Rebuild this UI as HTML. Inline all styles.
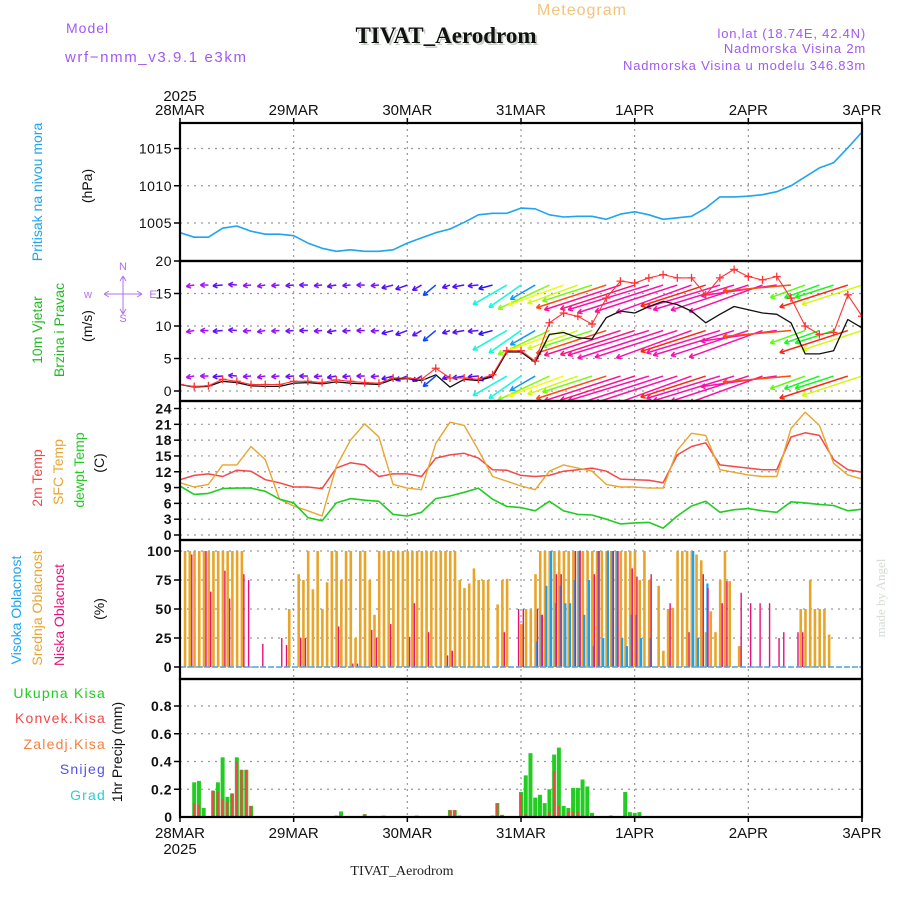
<!DOCTYPE html>
<html><head><meta charset="utf-8"><style>
html,body{margin:0;padding:0;background:#fff;}
svg{display:block;font-family:"Liberation Sans",sans-serif;}
</style></head><body>
<svg id="chart" width="900" height="900" viewBox="0 0 900 900" xmlns="http://www.w3.org/2000/svg">
<g id="header">
  <text x="582" y="15" font-size="16" fill="#f2c47a" text-anchor="middle" letter-spacing="1">Meteogram</text>
  <text x="66" y="33" font-size="14" fill="#a259f0" letter-spacing="1">Model</text>
  <text x="65" y="62" font-size="15" fill="#a259f0" letter-spacing="1.6">wrf−nmm_v3.9.1 e3km</text>
  <text x="446" y="43" font-size="23" font-weight="bold" fill="#c8d0c8" text-anchor="middle" font-family="Liberation Serif, serif" transform="translate(2,2)">TIVAT_Aerodrom</text>
  <text x="446" y="43" font-size="23" font-weight="bold" fill="#111" text-anchor="middle" font-family="Liberation Serif, serif">TIVAT_Aerodrom</text>
  <text x="866" y="38" font-size="13" fill="#a259f0" text-anchor="end" letter-spacing="0.8">lon,lat (18.74E, 42.4N)</text>
  <text x="866" y="53" font-size="13" fill="#a259f0" text-anchor="end" letter-spacing="0.8">Nadmorska Visina 2m</text>
  <text x="866" y="70" font-size="13" fill="#a259f0" text-anchor="end" letter-spacing="0.8">Nadmorska Visina u modelu 346.83m</text>
  <text x="402" y="875" font-size="14" fill="#222" text-anchor="middle" font-family="Liberation Serif, serif">TIVAT_Aerodrom</text>
  <text x="885" y="598" font-size="13" fill="#d6ddd6" text-anchor="middle" transform="rotate(-90 885 598)" font-family="Liberation Serif, serif">made by Angel</text>
</g>
<g id="leftlabels"></g>
<g id="grid"></g>
<defs><clipPath id="windclip"><rect x="180" y="262" width="682" height="138"/></clipPath>
<clipPath id="presclip"><rect x="180" y="124" width="682" height="136"/></clipPath></defs>
<g id="marks"></g>
<g id="frame"></g>
</svg>
<script>
// ---------- DATA (3-hourly, 28MAR 00 .. 3APR 00) ----------
const dayLabels = ["28MAR","29MAR","30MAR","31MAR","1APR","2APR","3APR"];
const pressure = [1003.7,1003.1,1003.1,1004.3,1004.6,1003.9,1003.5,1003.5,1003.3,1002.3,1001.6,1001.2,1001.4,1001.2,1001.2,1001.4,1002.3,1003.0,1003.7,1004.2,1005.1,1006.1,1006.3,1006.3,1007.0,1006.9,1006.1,1005.8,1005.9,1005.9,1005.5,1006.2,1006.5,1006.1,1005.5,1005.7,1005.9,1007.0,1008.5,1008.5,1008.6,1008.8,1009.2,1010.0,1011.2,1012.4,1013.1,1015.1,1017.2];
const windSpeed = [1,0.6,0.7,1.5,1.3,0.8,0.7,0.7,1.2,1.3,1.1,1.4,1.2,1.1,1,1.8,1.9,1.6,2.5,0.6,1.8,1.6,2.2,6,6,4.4,8.7,9,8.2,8,11.3,12.3,12,13,13.8,13.3,12.3,10.5,11.8,13,12.5,12,11.8,10.5,5.7,5.7,6.2,11,9.7];
const windGust = [1,0.7,0.8,1.8,1.5,1,1,1,1.5,1.5,1.3,1.7,1.5,1.3,1.2,2,2,1.8,3.5,2,2,1.8,2.5,6.2,6.2,4.6,10.5,12,11.5,10.3,14.3,16.9,16.6,17.4,17.9,17.4,17.4,14.8,17.4,18.7,17.6,17.1,17.6,14.3,10,8.7,9,14.8,11.5];
const windDir = [185,190,180,185,175,185,190,185,185,180,185,190,185,180,185,195,200,210,220,200,190,185,195,210,215,210,205,200,200,198,198,198,198,197,198,198,200,198,197,197,198,200,188,185,200,200,198,198,198];
const temp2m = [10.5,11.3,11.6,11.1,12.3,12.1,10.5,9.9,9.1,9.1,8.8,12.7,13.7,13.3,11.1,11.6,11.6,11.1,14.6,15.2,15.5,14.6,12.4,12.3,11.3,11.1,11.3,12.1,12.4,12.7,12.1,10.6,10.5,10.4,9.9,15.2,16.8,17.5,13.3,13,12.7,12.4,12.4,18.6,19.4,18.9,14.3,12.4,11.9];
const tempSfc = [9.9,9.1,9.6,13.3,13.3,16.8,14.3,6.8,5.5,4.6,3.6,13,18,21.1,18.6,9.6,8.9,8.6,17.4,21.4,20.8,16.1,11.1,10.2,9.3,8.6,12.1,13.3,12.7,12.1,9.6,9.1,9.1,8.9,8.9,16.1,19.3,18.9,12.4,11.9,11.4,11.1,11.1,20.2,23.3,20.8,13.6,11.4,10.6];
const tempDew = [9.3,7.7,7.9,8.8,8.9,8.9,8.3,6.8,6.1,3.3,2.7,6.1,6.9,6.6,6.4,3.9,3.6,4.3,6.9,7.4,8.1,8.9,6.8,5.4,5.2,4.6,6.4,4.6,3.9,3.8,3,2.1,2.3,2.4,1.3,3.6,5.5,6.4,4.3,4.8,5,4.6,4.3,6.3,6.1,5.8,5.6,4.6,4.9];
// ---------- cloud cover, hourly (%), 145 values ----------
const cloudMid = [0,100,100,100,100,100,100,100,100,100,100,100,100,100,0,0,0,0,0,0,0,0,0,50,0,80,75,100,67,100,50,73,100,100,75,100,100,25,100,100,75,45,100,100,100,100,100,100,100,100,100,100,100,100,100,100,100,100,100,75,68,72,85,75,75,75,0,54,75,76,0,0,37,50,50,80,100,100,100,100,100,100,100,100,100,100,100,100,100,100,100,100,100,100,100,100,100,75,100,75,0,70,14,50,51,100,100,100,100,97,92,30,48,30,75,100,74,0,18,0,0,0,0,0,0,0,0,0,0,0,0,50,50,75,50,50,50,28,0,0,0,0,0,0,0];
const lowHours = [2,5,6,9,10,13,14,17,21,22,25,26,33,36,37,40,41,44,48,49,52,56,57,68,71,72,75,76,79,80,83,84,87,88,91,92,95,96,99,103,107,110,111,114,115,118,120,122,124,126,127,130,131];
const lowVals  = [97,100,65,83,59,80,75,20,25,19,25,25,35,3,3,32,25,37,26,55,30,10,14,30,50,50,50,45,80,80,100,100,80,100,100,100,85,78,80,55,30,80,68,55,74,64,55,55,55,25,30,30,30];
const highHours = [75,76,77,78,79,80,81,82,83,84,85,86,87,88,89,90,91,92,93,94,95,96,97,99,108,109,111];
const highVals  = [22,45,70,100,55,70,55,55,75,100,45,75,18,100,25,100,100,100,25,18,45,45,25,25,100,25,72];
// ---------- precipitation, hourly (mm) ----------
const precipHours = [3,4,5,7,8,9,10,11,12,13,14,15,33,34,39,43,50,57,58,59,66,67,68,72,73,74,75,76,77,78,79,80,81,82,83,84,85,86,87,91,94,95,96,97];
const precipTotal = [0.25,0.26,0.065,0.19,0.25,0.43,0.145,0.17,0.43,0.34,0.34,0.08,0.01,0.04,0.02,0.01,0.01,0.05,0.05,0.01,0.01,0.1,0.015,0.18,0.3,0.46,0.14,0.16,0.1,0.2,0.45,0.5,0.08,0.065,0.21,0.21,0.27,0.22,0.03,0.01,0.18,0.035,0.03,0.035];
const precipConv  = [0.1,0.09,0,0.19,0.18,0.13,0.11,0.17,0.4,0.34,0.34,0.08,0.01,0,0.02,0,0,0.05,0.05,0.01,0.01,0.1,0.015,0.17,0.02,0,0,0,0,0.04,0.33,0.08,0,0.04,0.04,0.04,0,0,0,0.01,0,0,0,0];
const presTicks = [1005,1010,1015];
const windTicks = [0,5,10,15,20];
const tempTicks = [0,3,6,9,12,15,18,21,24];
const cloudTicks = [0,25,50,75,100];
const precipTicks = [0.2,0.4,0.6,0.8];

// ---------- SCALES ----------
const X0=180, X1=862, HOURS=144;
const xH = h => X0 + h*(X1-X0)/HOURS;
const yPres = v => 223 - (v-1005)*7.45;
const yWind = v => 391 - v*6.5;
const yTemp = v => 535 - v*5.27;
const yCloud = v => 667 - v*1.16;
const yPrec = v => 817 - v*138.75;
const NS="http://www.w3.org/2000/svg";
function mk(tag, attrs, parent){const e=document.createElementNS(NS,tag);for(const k in attrs)e.setAttribute(k,attrs[k]);parent.appendChild(e);return e;}
const grid=document.getElementById('grid'), marks=document.getElementById('marks'), frame=document.getElementById('frame'), lab=document.getElementById('leftlabels');

const panels=[[123,261],[261,401],[401,540],[540,679],[679,817]];
for(let d=1; d<6; d++){
  const l=mk('line',{x1:xH(d*24),x2:xH(d*24),y1:123,y2:817,stroke:'#999','stroke-dasharray':'2,4','stroke-width':1.2},grid);
  
  
}
function hgrid(ticks, yf, fmt, name, bold){
  ticks.forEach(t=>{
    const y=yf(t);
    const l=mk('line',{x1:X0,x2:X1,y1:y,y2:y,stroke:'#999','stroke-dasharray':'2,5','stroke-width':1.2},grid);
    
    
    const tk=mk('line',{x1:X0-6,x2:X0,y1:y,y2:y,stroke:'#000','stroke-width':1.5},frame);
    
    
    const tx=mk('text',{x:X0-8,y:y+5,'font-size':14,'text-anchor':'end',fill:'#111','font-weight':bold?'bold':'normal','letter-spacing':'0.5'},frame);
    tx.textContent=fmt(t);
    
    
  });
}
hgrid(presTicks,yPres,t=>t,'pressure',false);
hgrid(windTicks,yWind,t=>t,'wind',false);
hgrid(tempTicks,yTemp,t=>t,'temp',true);
hgrid(cloudTicks,yCloud,t=>t,'cloud',true);
hgrid(precipTicks,yPrec,t=>t.toFixed(1),'precip',true);
{const tx=mk('text',{x:X0-8,y:822,'font-size':14,'text-anchor':'end',fill:'#111','font-weight':'bold'},frame);tx.textContent='0';

}

panels.forEach((p,i)=>{
  const r=mk('rect',{x:X0,y:p[0],width:X1-X0,height:p[1]-p[0],fill:'none',stroke:'#000','stroke-width':2.2},frame);
  
  
});
dayLabels.forEach((d,i)=>{
  [[115,'top'],[838,'bottom']].forEach(([y,pos])=>{
    const t=mk('text',{x:xH(i*24),y:y,'font-size':15,'text-anchor':'middle',fill:'#111'},frame);
    t.textContent=d;
    
    
    const tk=mk('line',{x1:xH(i*24),x2:xH(i*24),y1:pos==='top'?118:817,y2:pos==='top'?123:822,stroke:'#000','stroke-width':1.5},frame);
    
    
  });
});
[[101,'year-top'],[854,'year-bottom']].forEach(([y,n])=>{
  const t=mk('text',{x:180,y:y,'font-size':15,'text-anchor':'middle',fill:'#111'},frame);t.textContent='2025';
  
  
});

// ---------- SERIES ----------
function line(vals, yf, color, name, w, clip){
  const pts=vals.map((v,i)=>xH(i*3).toFixed(1)+','+yf(v).toFixed(1)).join(' ');
  const p=mk('polyline',{points:pts,fill:'none',stroke:color,'stroke-width':w||1.5,'stroke-linejoin':'round'},marks);
  if(clip)p.setAttribute('clip-path',clip);
  
  
  return p;
}
line(pressure,yPres,'#1ea4f0','pressure-line',1.6,'url(#presclip)');

const windG=mk('g',{'clip-path':'url(#windclip)'},marks);


const rows=[2.3,9.3,16.3];
windSpeed.forEach((s,i)=>{
  const g0=windGust[i];
  const hRaw=Math.max(-40,275-19.5*(g0-1));
  const hue=((hRaw%360)+360)%360;
  const col='hsl('+hue.toFixed(0)+',95%,52%)';
  const a=windDir[i]*Math.PI/180, L=Math.max(8,s*6.5);
  rows.forEach(r=>{
    const x0=xH(i*3), y0=yWind(r);
    const ex=x0+L*Math.cos(a), ey=y0-L*Math.sin(a);
    const g=mk('g',{stroke:col,'stroke-width':1.5,fill:'none'},windG);
    
    
    mk('line',{x1:x0,y1:y0,x2:ex,y2:ey},g);
    [a+0.5,a-0.5].forEach(b=>{
      mk('line',{x1:ex,y1:ey,x2:ex-5*Math.cos(b),y2:ey+5*Math.sin(b)},g);
    });
  });
});
line(windSpeed,yWind,'#111','wind-speed-line',1.3,'url(#windclip)');
line(windGust,yWind,'#f33','wind-gust-line',1.1,'url(#windclip)');
windGust.forEach((v,i)=>{
  const x=xH(i*3), y=yWind(v);
  const p=mk('path',{d:`M${x-4},${y}H${x+4}M${x},${y-4}V${y+4}`,stroke:'#f33','stroke-width':1.3},marks);
  p.setAttribute('clip-path','url(#windclip)');
  
  
});

line(temp2m,yTemp,'#f44848','temp-2m-line',1.5);
line(tempSfc,yTemp,'#e8a531','temp-sfc-line',1.4);
line(tempDew,yTemp,'#22cc22','dewpoint-line',1.6);

cloudMid.forEach((v,h)=>{
  if(!v)return;
  const r=mk('rect',{x:xH(h)-1,y:yCloud(v),width:2.6,height:yCloud(0)-yCloud(v),fill:'#e8a52a'},marks);
  
  
});
highHours.forEach((h,i)=>{
  const v=highVals[i];
  const r=mk('rect',{x:xH(h)+0.6,y:yCloud(v),width:2.2,height:yCloud(0)-yCloud(v),fill:'#1aa0f0'},marks);
  
  
});
lowHours.forEach((h,i)=>{
  const v=lowVals[i];
  const r=mk('rect',{x:xH(h)+1.6,y:yCloud(v),width:1.4,height:yCloud(0)-yCloud(v),fill:'#e8107a'},marks);
  
  
});
{const b=mk('line',{x1:X0,x2:X1,y1:667,y2:667,stroke:'#4aa8e8','stroke-width':1.5,'stroke-dasharray':'6,2'},marks);

}

precipHours.forEach((h,i)=>{
  const t=precipTotal[i], c=precipConv[i];
  const r=mk('rect',{x:xH(h)-2,y:yPrec(t),width:4,height:yPrec(0)-yPrec(t),fill:'#22cc22'},marks);
  
  
  if(c>0){
    const q=mk('rect',{x:xH(h)-1.2,y:yPrec(c),width:2.2,height:yPrec(0)-yPrec(c),fill:'#f04848'},marks);
    
    
  }
});

function rlab(text,x,y,color,name,size){
  const t=mk('text',{x:x,y:y,'font-size':size||14,fill:color,'text-anchor':'middle',transform:`rotate(-90 ${x} ${y})`},lab);
  t.textContent=text;
  
  
  return t;
}
rlab('Pritisak na nivou mora',42,192,'#1ea4f0','pressure-axis-title',14);
rlab('(hPa)',92,186,'#111','pressure-unit',14);
rlab('10m Vjetar',42,330,'#22bb22','wind-axis-title',14);
rlab('Brzina i Pravac',64,330,'#22bb22','wind-axis-subtitle',14);
rlab('(m/s)',92,326,'#111','wind-unit',14);
rlab('2m Temp',42,478,'#f04848','temp-2m-title',14);
rlab('SFC Temp',63,472,'#e8a531','temp-sfc-title',14);
rlab('dewpt Temp',84,470,'#22cc22','dewpoint-title',14);
rlab('(C)',104,463,'#111','temp-unit',14);
rlab('Visoka Oblacnost',21,610,'#1ea4f0','high-cloud-title',14);
rlab('Srednja Oblacnost',42,608,'#e8a531','mid-cloud-title',14);
rlab('Niska Oblacnost',64,615,'#e8107a','low-cloud-title',14);
rlab('(%)',104,609,'#111','cloud-unit',14);
rlab('1hr Precip (mm)',122,752,'#111','precip-axis-title',14);
[['Ukupna  Kisa','#22cc22',698,'total-precip-legend'],['Konvek.Kisa','#f04848',723,'convective-precip-legend'],['Zaledj.Kisa','#f5803a',749,'freezing-precip-legend'],['Snijeg','#5050f0',774,'snow-legend'],['Grad','#2acfcf',800,'hail-legend']].forEach(([t,c,y,n])=>{
  const e=mk('text',{x:106,y:y,'font-size':14,fill:c,'text-anchor':'end','letter-spacing':'1.2'},lab);
  e.textContent=t;
  
  
});
{
  const g=mk('g',{fill:'#b070f0',stroke:'none','font-size':11},lab);
  
  
  const items=[['N',123,270],['S',123,322],['E',153,298],['w',88,298]];
  items.forEach(([t,x,y])=>{const e=mk('text',{x:x,y:y,'text-anchor':'middle'},g);e.textContent=t;});
  mk('path',{d:'M104,294H142M104,294l5,-3M104,294l5,3M142,294l-5,-3M142,294l-5,3M123,276V314M123,276l-3,5M123,276l3,5M123,314l-3,-5M123,314l3,-5',stroke:'#b070f0','stroke-width':1,fill:'none'},g);
}
</script>
</body></html>
